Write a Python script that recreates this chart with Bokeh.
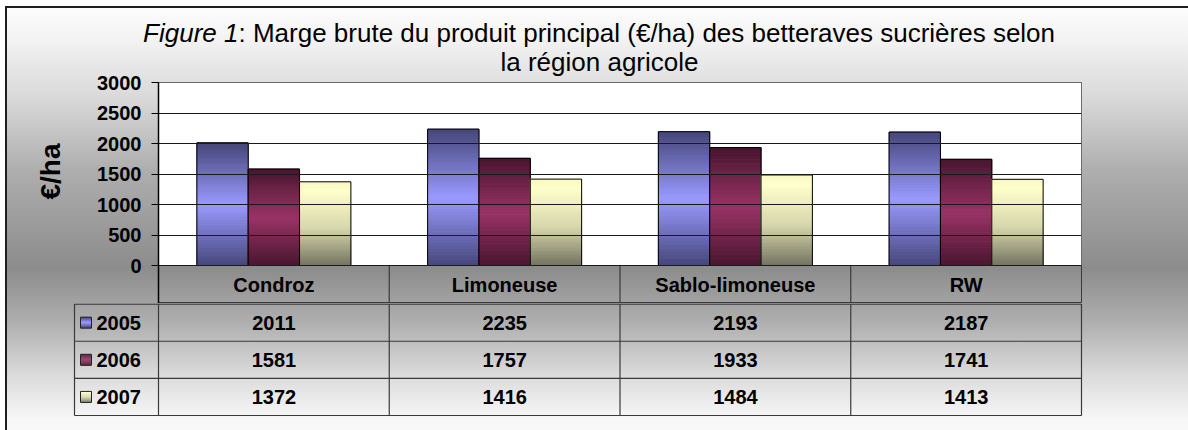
from bokeh.plotting import figure
from bokeh.models import Range1d, FixedTicker, Title
from bokeh.embed import file_html
from bokeh.resources import INLINE
from bokeh.core.properties import value

# ---------------- data ----------------
categories = ["Condroz", "Limoneuse", "Sablo-limoneuse", "RW"]
years = ["2005", "2006", "2007"]
v2005 = [2011, 2235, 2193, 2187]
v2006 = [1581, 1757, 1933, 1741]
v2007 = [1372, 1416, 1484, 1413]
y_ticks = [0, 500, 1000, 1500, 2000, 2500, 3000]
title_italic = "Figure 1"
title_rest = ": Marge brute du produit principal (€/ha) des betteraves sucrières selon"
title_line2 = "la région agricole"
y_label = "€/ha"

# ---------------- layout / styles (page pixels) ----------------
FONT = "Liberation Sans"
OX = 5
W = 1188 - OX
PLOT_L, PLOT_R = 158, 1081
Y3000, Y0 = 82, 265
HDR_B = 303
ROW_H = 37
LEG_L = 74
COLW = (PLOT_R - PLOT_L) / 4.0
PXU = (Y0 - Y3000) / 3000.0
TOP0, H0 = 6, 76
OVERLAP = 10
TOP1 = TOP0 + H0 - OVERLAP
H1 = HDR_B - TOP1
H2 = 430 - HDR_B
N_SLICES = 48
BW = 0.2225
LC = "#3a3a3a"
TITLE_SIZE = "26px"

BG_STOPS = [(0, "#ffffff"), (36, "#f4f4f4"), (100, "#d8d8d8"), (170, "#aeaeae"),
            (268, "#8c8c8c"), (324, "#b0b0b0"), (374, "#dadada"), (420, "#f8f8f8")]


def bg(start):
    """page-fixed vertical gradient, painted only from page y = start downwards"""
    stops = ", ".join(f"{c} {y - start}px" for y, c in BG_STOPS)
    return f"linear-gradient(to bottom, {stops}) 0px {start}px / 100% {440 - start}px no-repeat fixed"


grad_stops = [
    [(0.0, "#46467a"), (0.5, "#9a9aff"), (1.0, "#46467a")],
    [(0.0, "#48162f"), (0.5, "#993366"), (1.0, "#48162f")],
    [(0.0, "#f8f8c4"), (0.1, "#ffffcc"), (0.55, "#d6d6ac"), (1.0, "#727260")],
]


def hex2rgb(h):
    h = h.lstrip("#")
    return tuple(int(h[i:i + 2], 16) for i in (0, 2, 4))


def interp(stops, t):
    for (t0, c0), (t1, c1) in zip(stops[:-1], stops[1:]):
        if t0 <= t <= t1:
            f = 0 if t1 == t0 else (t - t0) / (t1 - t0)
            a, b = hex2rgb(c0), hex2rgb(c1)
            return "#%02x%02x%02x" % tuple(round(a[i] + (b[i] - a[i]) * f) for i in range(3))
    return stops[-1][1]


nc = len(categories)

# ---------------- title figure ----------------
p0 = figure(width=W, height=H0, x_range=Range1d(0, W), y_range=Range1d(H0, 0),
            x_axis_type=None, y_axis_type=None, output_backend="svg", toolbar_location=None,
            min_border=0, min_border_left=0, min_border_right=0, min_border_top=0, min_border_bottom=0,
            styles={"margin-left": f"{OX}px", "margin-top": f"{TOP0}px", "background": bg(0),
                    "box-shadow": "inset 2px 2px 0 0 #1e1e1e"})
p0.background_fill_color = None
p0.border_fill_color = None
p0.outline_line_color = None
JOINT = 238
p0.text(x=[JOINT - OX], y=[32 - TOP0], text=[title_italic], text_align="right", text_baseline="middle",
        text_font=value(FONT), text_font_style="italic", text_font_size=TITLE_SIZE, text_color="black")
p0.text(x=[JOINT - OX], y=[32 - TOP0], text=[title_rest], text_align="left", text_baseline="middle",
        text_font=value(FONT), text_font_size=TITLE_SIZE, text_color="black")
p0.text(x=[599 - OX], y=[61 - TOP0], text=[title_line2], text_align="center", text_baseline="middle",
        text_font=value(FONT), text_font_size=TITLE_SIZE, text_color="black")

# ---------------- chart figure (plot area + header row) ----------------
y_bottom = -(HDR_B - Y0) / PXU
p1 = figure(width=W, height=H1, x_range=Range1d(0, nc), y_range=Range1d(y_bottom, 3000),
            x_axis_type=None, output_backend="svg", toolbar_location=None,
            min_border_left=PLOT_L - OX, min_border_right=1188 - PLOT_R, min_border_top=Y3000 - TOP1,
            min_border_bottom=0,
            styles={"margin-left": f"{OX}px", "margin-top": f"-{OVERLAP}px", "background": bg(TOP0 + H0),
                    "box-shadow": "inset 2px 0 0 0 #1e1e1e"})
p1.background_fill_color = None
p1.border_fill_color = None
p1.outline_line_color = LC
p1.xgrid.visible = False
p1.ygrid.ticker = FixedTicker(ticks=y_ticks)
p1.ygrid.grid_line_color = "#1a1a1a"
p1.ygrid.grid_line_width = 1
p1.ygrid.level = "glyph"

p1.quad(left=[0], right=[nc], bottom=[0], top=[3000], fill_color="white", line_color=None, level="underlay")

ax = p1.yaxis[0]
ax.ticker = FixedTicker(ticks=y_ticks)
ax.axis_line_color = "black"
ax.axis_line_width = 1.5
ax.major_tick_in = 0
ax.major_tick_out = 7
ax.major_tick_line_color = "black"
ax.minor_tick_line_color = None
ax.major_label_text_font = FONT
ax.major_label_text_font_style = "bold"
ax.major_label_text_font_size = "20px"
ax.major_label_text_color = "black"
ax.major_label_standoff = 10

# y-axis title, upper end 61 px below the top of the plot area
p1.add_layout(Title(text=y_label, align="right", offset=61, standoff=55, vertical_align="middle",
                    text_font=FONT, text_font_style="bold", text_font_size="28px",
                    text_color="black"), "left")

series = [v2005, v2006, v2007]
for si, vals in enumerate(series):
    off = (si - 1) * BW
    xs, bots, tops, cols = [], [], [], []
    for ci, v in enumerate(vals):
        for k in range(N_SLICES):
            xs.append(ci + 0.5 + off)
            bots.append(v * k / N_SLICES)
            tops.append(v * (k + 1) / N_SLICES)
            cols.append(interp(grad_stops[si], 1 - (k + 0.5) / N_SLICES))
    p1.vbar(x=xs, width=BW, bottom=bots, top=tops, fill_color=cols, line_color=cols, line_width=1)
    xc = [ci + 0.5 + off for ci in range(len(vals))]
    p1.vbar(x=xc, width=BW, bottom=0, top=vals, fill_color=None, line_color="black", line_width=1)

hx = list(range(1, nc))
p1.segment(x0=hx, y0=[0] * len(hx), x1=hx, y1=[y_bottom] * len(hx), line_color=LC, line_width=1.2)
p1.text(x=[i + 0.5 for i in range(nc)], y=[y_bottom / 2] * nc, text=categories, text_align="center",
        text_baseline="middle", text_font=value(FONT), text_font_style="bold",
        text_font_size="20px", text_color="black")

# ---------------- value rows of the data table ----------------
x_lo = (LEG_L - 3 - PLOT_L) / COLW
x_hi = (PLOT_R + 3 - PLOT_L) / COLW
y_hi = 3 + 0.6 / ROW_H
y_lo = -2 / ROW_H
p2 = figure(width=W, height=H2, x_range=Range1d(x_lo, x_hi), y_range=Range1d(y_lo, y_hi),
            x_axis_type=None, y_axis_type=None, output_backend="svg", toolbar_location=None,
            min_border_left=LEG_L - 3 - OX, min_border_right=1188 - (PLOT_R + 3), min_border_top=0,
            min_border_bottom=H2 - round(3 * ROW_H + 2.6),
            styles={"margin-left": f"{OX}px", "background": bg(HDR_B),
                    "box-shadow": "inset 2px 0 0 0 #1e1e1e"})
p2.background_fill_color = None
p2.border_fill_color = None
p2.outline_line_color = None

LEG = (PLOT_L - LEG_L) / COLW
hy = [3, 2, 1, 0]
p2.segment(x0=[-LEG] * 4, y0=hy, x1=[nc] * 4, y1=hy, line_color=LC, line_width=1.2)
vx = list(range(nc + 1))
p2.segment(x0=vx, y0=[0] * len(vx), x1=vx, y1=[3] * len(vx), line_color=LC, line_width=1.2)
p2.segment(x0=[-LEG], y0=[0], x1=[-LEG], y1=[3], line_color=LC, line_width=1.2)

for si, vals in enumerate(series):
    rowc = 2.5 - si
    p2.text(x=[i + 0.5 for i in range(nc)], y=[rowc] * nc, text=[str(v) for v in vals],
            text_align="center", text_baseline="middle", text_font=value(FONT),
            text_font_style="bold", text_font_size="20px", text_color="black")
    sx = -LEG + 11.5 / COLW
    for k in range(11):
        t = (k + 0.5) / 11
        p2.rect(x=[sx], y=[rowc + (5 - k) / ROW_H], width=10, height=1.2, width_units="screen",
                height_units="screen", fill_color=interp(grad_stops[si], t), line_color=None)
    p2.rect(x=[sx], y=[rowc], width=11, height=11, width_units="screen", height_units="screen",
            fill_color=None, line_color="#222222", line_width=1)
    p2.text(x=[-LEG + 22 / COLW], y=[rowc], text=[years[si]], text_align="left", text_baseline="middle",
            text_font=value(FONT), text_font_style="bold", text_font_size="20px", text_color="black")

open("out.html", "w").write(file_html([p0, p1, p2], INLINE))
